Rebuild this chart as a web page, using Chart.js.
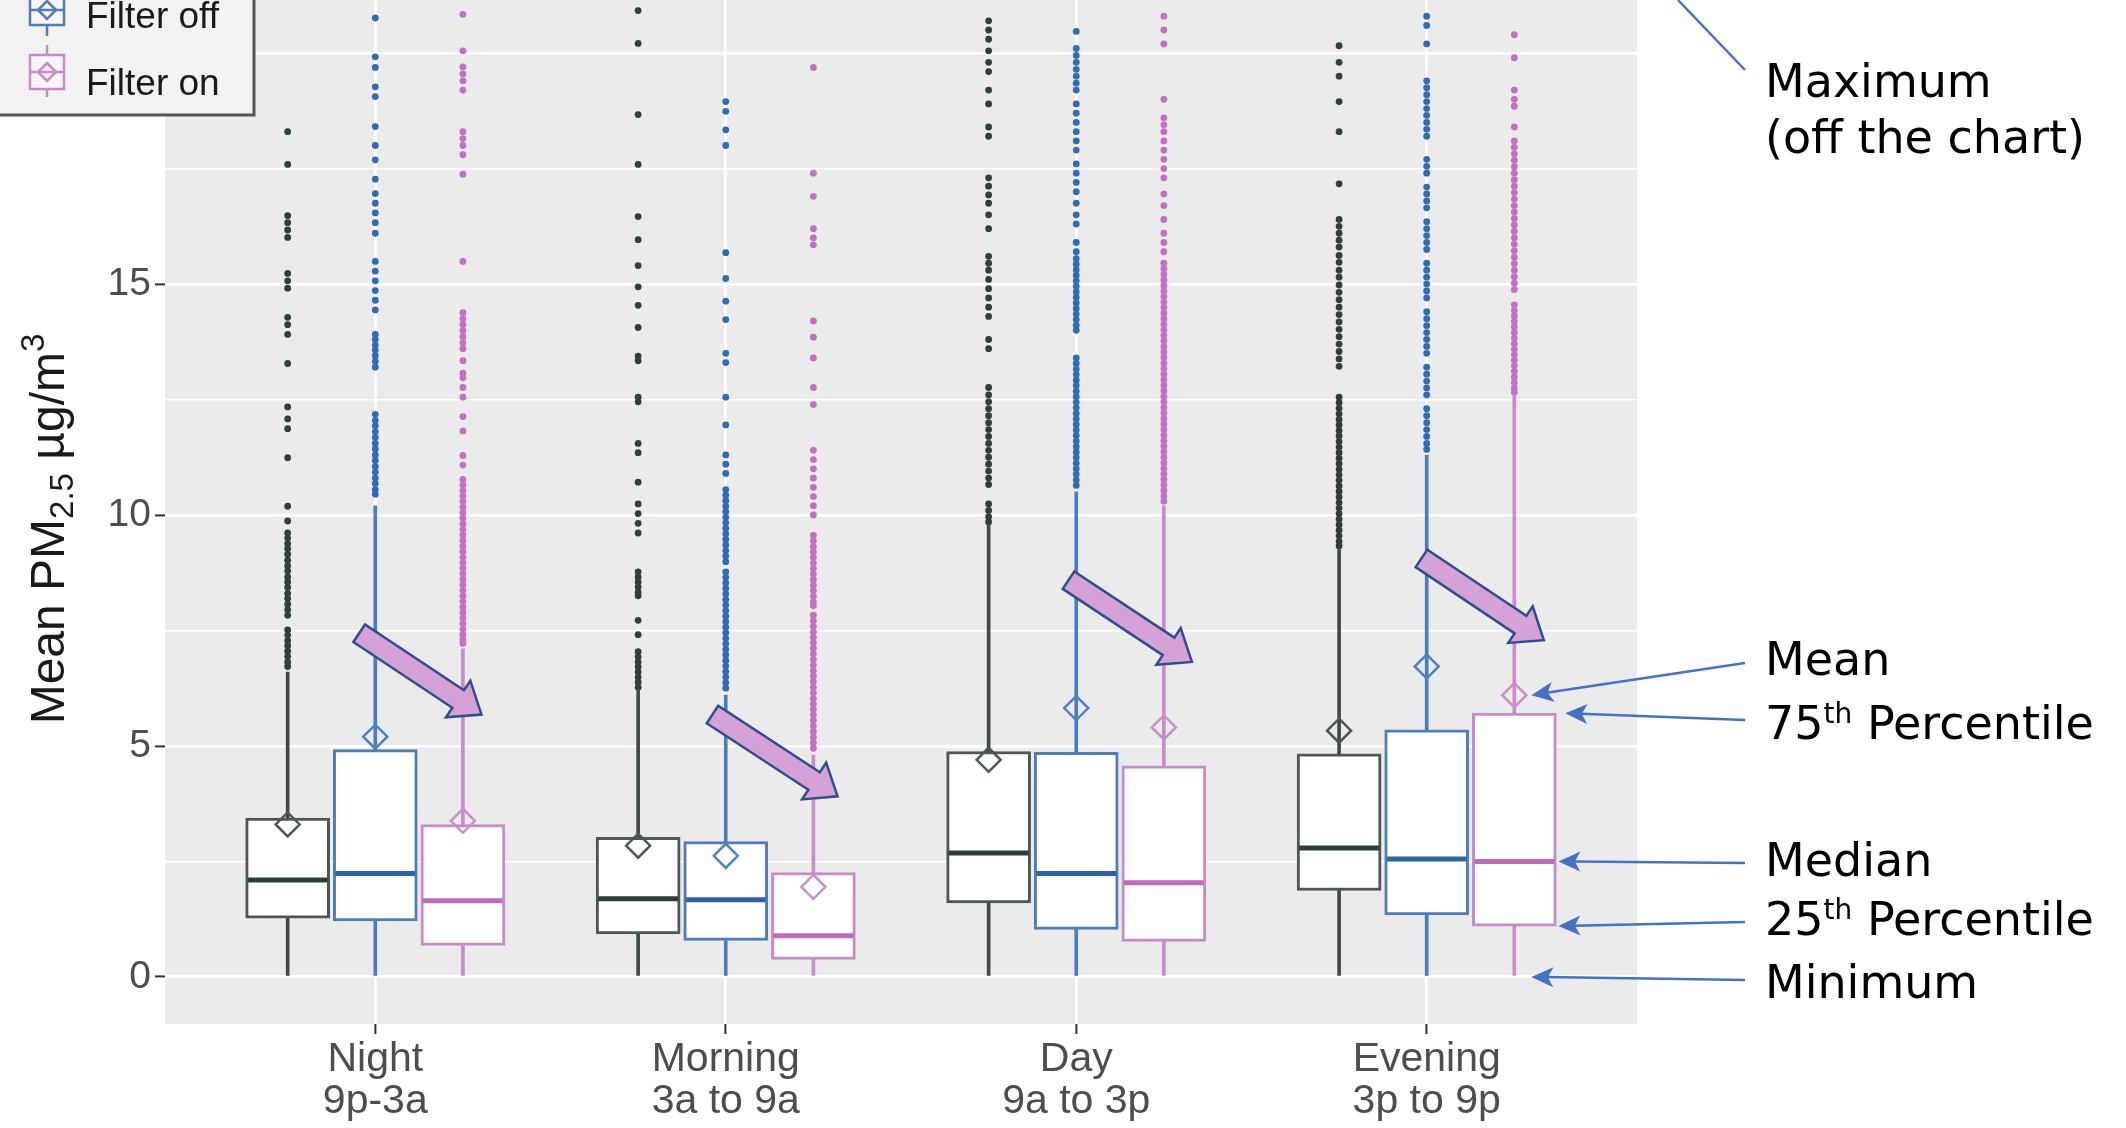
<!DOCTYPE html>
<html>
<head>
<meta charset="utf-8">
<script src="https://cdn.jsdelivr.net/npm/chart.js@4.4.1/dist/chart.umd.min.js"></script>
<style>
  html, body { margin: 0; padding: 0; background: #ffffff; }
  #marco { width: 2126px; height: 1128px; position: relative; }
</style>
</head>
<body>
<div id="marco"><canvas id="pmChart"></canvas></div>
<script>
// Categorías y etiquetas del eje x
const categorias = ['Night', 'Morning', 'Day', 'Evening'];
const periodos = ['9p-3a', '3a to 9a', '9a to 3p', '3p to 9p'];
const leyenda = ['Filter off', 'Filter on'];

// Marcas del eje y
const ticksMayores = [0, 5, 10, 15, 20];
const ticksMenores = [2.5, 7.5, 12.5, 17.5];
const yMin = -1.02;
const yMax = 21.15;

// Grupo gris oscuro (primera caja de cada franja)
const q1Gris = [1.27, 0.93, 1.60, 1.87];
const medianaGris = [2.10, 1.69, 2.68, 2.79];
const q3Gris = [3.44, 3.02, 4.88, 4.83];
const mediaGris = [3.30, 2.84, 4.70, 5.33];
const minGris = [0, 0, 0, 0];
const bigoteGris = [6.6, 6.2, 9.8, 9.25];
const atipicosGris = [
  [18.3, 17.59, 16.48, 16.33, 16.17, 16.01, 15.23, 15.07, 14.91, 14.28, 14.12, 13.91, 13.28, 12.34, 12.08, 11.87, 11.24, 10.19, 9.87, 9.61, 9.5, 9.38, 9.27, 9.15, 9.02, 8.9, 8.79, 8.66, 8.55, 8.43, 8.3, 8.19, 8.07, 7.95, 7.83, 7.51, 7.4, 7.28, 7.17, 7.05, 6.94, 6.82, 6.72],
  [20.92, 20.21, 18.67, 17.59, 16.46, 15.96, 15.4, 14.94, 14.54, 14.06, 13.44, 13.34, 12.55, 12.45, 11.55, 11.35, 10.71, 10.24, 10.03, 9.82, 9.61, 8.77, 8.66, 8.55, 8.44, 8.33, 8.25, 7.72, 7.41, 7.04, 6.93, 6.82, 6.71, 6.6, 6.49, 6.38, 6.27],
  [20.7, 20.5, 20.3, 20.05, 19.8, 19.6, 19.2, 18.9, 18.4, 18.2, 17.3, 17.12, 16.93, 16.75, 16.5, 16.2, 15.6, 15.45, 15.3, 15.1, 14.9, 14.7, 14.5, 14.3, 13.8, 13.6, 12.76, 12.6, 12.45, 12.3, 12.15, 12.0, 11.85, 11.7, 11.55, 11.4, 11.25, 11.1, 10.95, 10.8, 10.66, 10.24, 10.1, 9.96, 9.85],
  [20.16, 19.8, 19.5, 18.95, 18.3, 17.17, 16.4, 16.25, 16.1, 15.95, 15.8, 15.62, 15.47, 15.3, 15.15, 14.98, 14.82, 14.66, 14.5, 14.34, 14.18, 14.02, 13.86, 13.7, 13.54, 13.38, 13.22, 12.55, 12.43, 12.31, 12.19, 12.07, 11.95, 11.83, 11.71, 11.59, 11.47, 11.35, 11.23, 11.11, 10.99, 10.87, 10.75, 10.63, 10.51, 10.39, 10.27, 10.15, 10.03, 9.91, 9.79, 9.67, 9.55, 9.43, 9.33]
];

// Filter off (azul)
const q1Off = [1.21, 0.79, 1.03, 1.34];
const medianaOff = [2.24, 1.67, 2.24, 2.55];
const q3Off = [4.92, 2.93, 4.86, 5.35];
const mediaOff = [5.20, 2.62, 5.82, 6.72];
const minOff = [0, 0, 0, 0];
const bigoteOff = [10.2, 6.1, 10.5, 11.3];
const atipicosOff = [
  [20.76, 19.92, 19.69, 19.27, 19.06, 18.41, 18.0, 17.69, 17.27, 16.96, 16.75, 16.54, 16.33, 16.1, 15.49, 15.28, 15.07, 14.86, 14.65, 14.44, 13.91, 13.8, 13.68, 13.57, 13.45, 13.33, 13.2, 12.18, 12.05, 11.93, 11.8, 11.68, 11.55, 11.43, 11.3, 11.18, 11.05, 10.93, 10.8, 10.68, 10.55, 10.45],
  [18.95, 18.74, 18.34, 18.0, 15.68, 15.12, 14.63, 14.23, 13.5, 13.3, 12.55, 11.95, 11.3, 11.1, 10.9, 10.55, 10.43, 10.31, 10.19, 10.07, 9.95, 9.83, 9.71, 9.59, 9.47, 9.35, 9.23, 9.11, 8.99, 8.77, 8.65, 8.53, 8.41, 8.29, 8.17, 8.05, 7.93, 7.81, 7.69, 7.57, 7.45, 7.33, 7.21, 7.09, 6.97, 6.85, 6.73, 6.61, 6.49, 6.37, 6.25],
  [20.47, 20.1, 19.95, 19.8, 19.65, 19.5, 19.35, 19.2, 18.9, 18.7, 18.5, 18.3, 18.1, 17.9, 17.6, 17.4, 17.2, 17.0, 16.75, 16.5, 16.3, 15.9, 15.7, 15.55, 15.43, 15.31, 15.19, 15.07, 14.95, 14.83, 14.71, 14.59, 14.47, 14.35, 14.23, 14.11, 14.0, 13.4, 13.28, 13.16, 13.04, 12.92, 12.8, 12.68, 12.56, 12.44, 12.32, 12.2, 12.08, 11.96, 11.84, 11.72, 11.6, 11.48, 11.36, 11.24, 11.12, 11.0, 10.88, 10.76, 10.64],
  [20.8, 20.6, 20.2, 19.4, 19.25, 19.1, 18.95, 18.8, 18.65, 18.5, 18.35, 18.2, 17.7, 17.55, 17.4, 17.1, 16.95, 16.8, 16.65, 16.35, 16.2, 16.05, 15.9, 15.75, 15.45, 15.3, 15.15, 15.0, 14.85, 14.7, 14.4, 14.25, 14.1, 13.95, 13.8, 13.65, 13.5, 13.2, 13.05, 12.9, 12.75, 12.6, 12.3, 12.15, 12.0, 11.85, 11.7, 11.55, 11.42]
];

// Filter on (rosa)
const q1On = [0.68, 0.38, 0.77, 1.10];
const medianaOn = [1.65, 0.89, 2.04, 2.50];
const q3On = [3.30, 2.26, 4.57, 5.71];
const mediaOn = [3.38, 1.95, 5.40, 6.10];
const minOn = [0, 0, 0, 0];
const bigoteOn = [7.1, 4.8, 10.2, 12.6];
const atipicosOn = [
  [20.84, 20.05, 19.7, 19.55, 19.4, 19.2, 18.3, 18.15, 18.0, 17.8, 17.38, 15.49, 14.38, 14.25, 14.12, 13.99, 13.86, 13.73, 13.6, 13.34, 13.07, 12.97, 12.76, 12.55, 12.13, 11.82, 11.29, 11.08, 10.77, 10.65, 10.53, 10.41, 10.29, 10.17, 10.05, 9.93, 9.81, 9.69, 9.57, 9.45, 9.33, 9.21, 9.09, 8.97, 8.85, 8.73, 8.61, 8.49, 8.37, 8.25, 8.13, 8.01, 7.89, 7.77, 7.65, 7.53, 7.41, 7.3, 7.22],
  [19.69, 17.4, 16.9, 16.2, 16.0, 15.85, 14.2, 13.85, 13.4, 12.76, 12.39, 11.4, 11.2, 11.0, 10.8, 10.6, 10.4, 10.2, 10.0, 9.56, 9.44, 9.32, 9.2, 9.08, 8.96, 8.84, 8.72, 8.6, 8.48, 8.36, 8.24, 8.12, 8.04, 7.83, 7.71, 7.59, 7.47, 7.35, 7.23, 7.11, 6.99, 6.87, 6.75, 6.63, 6.51, 6.39, 6.27, 6.15, 6.03, 5.91, 5.79, 5.67, 5.55, 5.43, 5.31, 5.19, 5.07, 4.95],
  [20.8, 20.5, 20.2, 19.0, 18.6, 18.45, 18.3, 18.1, 17.9, 17.7, 17.5, 17.3, 16.95, 16.7, 16.4, 16.1, 15.9, 15.7, 15.45, 15.33, 15.21, 15.09, 14.97, 14.85, 14.73, 14.61, 14.49, 14.37, 14.25, 14.13, 14.01, 13.89, 13.77, 13.65, 13.53, 13.41, 13.29, 13.17, 13.05, 12.93, 12.81, 12.69, 12.57, 12.45, 12.33, 12.21, 12.09, 11.97, 11.85, 11.73, 11.61, 11.49, 11.37, 11.25, 11.13, 11.01, 10.89, 10.77, 10.65, 10.53, 10.41, 10.3],
  [20.4, 19.9, 19.2, 19.0, 18.85, 18.4, 18.1, 17.96, 17.82, 17.68, 17.54, 17.4, 17.26, 17.12, 16.98, 16.84, 16.7, 16.56, 16.42, 16.28, 16.14, 16.0, 15.86, 15.72, 15.58, 15.44, 15.3, 15.16, 15.02, 14.88, 14.55, 14.43, 14.31, 14.19, 14.07, 13.95, 13.83, 13.71, 13.59, 13.47, 13.35, 13.23, 13.11, 12.99, 12.87, 12.75, 12.66]
];

// Flechas moradas (cola y punta en unidades de los ejes)
const colasFlecha = [[0.954, 7.44], [1.962, 5.68], [2.978, 8.59], [3.985, 9.06]];
const puntasFlecha = [[1.303, 5.68], [2.319, 3.91], [3.33, 6.82], [4.334, 7.29]];

// Desplazamiento de cada grupo dentro de la franja
const desplazamientos = [-0.25, 0, 0.25];

const grupos = [
  { q1: q1Gris, med: medianaGris, q3: q3Gris, media: mediaGris, min: minGris, max: bigoteGris, atip: atipicosGris },
  { q1: q1Off, med: medianaOff, q3: q3Off, media: mediaOff, min: minOff, max: bigoteOff, atip: atipicosOff },
  { q1: q1On, med: medianaOn, q3: q3On, media: mediaOn, min: minOn, max: bigoteOn, atip: atipicosOn }
];

const colores = [
  { caja: '#4d5854', bigote: '#3d4a46', mediana: '#2c3e3a', punto: '#2f403c', media: '#4d5854' },
  { caja: '#4f7db6', bigote: '#4a7cc0', mediana: '#2d64a9', punto: '#2f6cb6', media: '#4d82c2' },
  { caja: '#c68cc7', bigote: '#c98bcb', mediana: '#c06ab9', punto: '#c46fc4', media: '#c98fc9' }
];

Chart.defaults.font.family = '"Liberation Sans", Arial, sans-serif';
Chart.defaults.color = '#4d4d4d';

// Construir los datasets de cada grupo
const datasets = [];
grupos.forEach((g, gi) => {
  const c = colores[gi];
  const xEn = i => i + 1 + desplazamientos[gi];
  datasets.push({
    type: 'scatter', order: 5,
    data: g.atip.flatMap((vals, i) => vals.map(v => ({ x: xEn(i), y: v }))),
    pointRadius: 3.4, pointBorderWidth: 0, pointBackgroundColor: c.punto
  });
  datasets.push({
    type: 'bar', order: 4, grouped: false, barThickness: 3,
    data: categorias.map((n, i) => ({ x: xEn(i), y: [g.min[i], g.max[i]] })),
    backgroundColor: c.bigote, borderWidth: 0
  });
  datasets.push({
    type: 'bar', order: 3, grouped: false, barThickness: 84,
    data: categorias.map((n, i) => ({ x: xEn(i), y: [g.q1[i], g.q3[i]] })),
    backgroundColor: '#ffffff', borderColor: c.caja, borderWidth: 3, borderSkipped: false
  });
  datasets.push({
    type: 'scatter', order: 2,
    data: categorias.map((n, i) => ({ x: xEn(i), y: g.med[i] })),
    pointStyle: 'line', pointRadius: 40, pointBorderWidth: 5, pointBorderColor: c.mediana
  });
  datasets.push({
    type: 'scatter', order: 1,
    data: categorias.map((n, i) => ({ x: xEn(i), y: g.media[i] })),
    pointStyle: 'rectRot', pointRadius: 12, pointBorderWidth: 2.5,
    pointBorderColor: c.media, pointBackgroundColor: 'rgba(0,0,0,0)'
  });
});

// Flecha gruesa morada
function flechaBloque(ctx, x1, y1, x2, y2) {
  const dx = x2 - x1, dy = y2 - y1;
  const len = Math.hypot(dx, dy);
  const ux = dx / len, uy = dy / len;
  const px = -uy, py = ux;
  const sw = 10.5, hw = 22, hl = 28;
  const bx = x2 - ux * hl, by = y2 - uy * hl;
  ctx.beginPath();
  ctx.moveTo(x1 + px * sw, y1 + py * sw);
  ctx.lineTo(bx + px * sw, by + py * sw);
  ctx.lineTo(bx + px * hw, by + py * hw);
  ctx.lineTo(x2, y2);
  ctx.lineTo(bx - px * hw, by - py * hw);
  ctx.lineTo(bx - px * sw, by - py * sw);
  ctx.lineTo(x1 - px * sw, y1 - py * sw);
  ctx.closePath();
  ctx.fillStyle = '#d4a2d6';
  ctx.fill();
  ctx.strokeStyle = '#2f4e8e';
  ctx.lineWidth = 2.5;
  ctx.lineJoin = 'miter';
  ctx.stroke();
}

// Línea azul con punta
function flechaAzul(ctx, x1, y1, x2, y2, conPunta) {
  const ang = Math.atan2(y2 - y1, x2 - x1);
  const L = 22, W = 10;
  ctx.strokeStyle = '#4472c4';
  ctx.fillStyle = '#4472c4';
  ctx.lineWidth = 2.5;
  ctx.beginPath();
  ctx.moveTo(x1, y1);
  ctx.lineTo(conPunta ? x2 - Math.cos(ang) * L * 0.7 : x2, conPunta ? y2 - Math.sin(ang) * L * 0.7 : y2);
  ctx.stroke();
  if (!conPunta) return;
  ctx.beginPath();
  ctx.moveTo(x2, y2);
  ctx.lineTo(x2 - Math.cos(ang) * L - Math.sin(ang) * W, y2 - Math.sin(ang) * L + Math.cos(ang) * W);
  ctx.lineTo(x2 - Math.cos(ang) * L * 0.75, y2 - Math.sin(ang) * L * 0.75);
  ctx.lineTo(x2 - Math.cos(ang) * L + Math.sin(ang) * W, y2 - Math.sin(ang) * L - Math.cos(ang) * W);
  ctx.closePath();
  ctx.fill();
}

// Texto con partes normales y superíndices/subíndices
function textoPartes(ctx, partes, x, y) {
  let cx = x;
  partes.forEach(p => {
    ctx.font = p.f;
    ctx.fillText(p.t, cx, y + (p.dy || 0));
    cx += ctx.measureText(p.t).width;
  });
  return cx - x;
}

function anchoPartes(ctx, partes) {
  let w = 0;
  partes.forEach(p => { ctx.font = p.f; w += ctx.measureText(p.t).width; });
  return w;
}

// Icono de caja para la leyenda
function iconoCaja(ctx, cx, top, bottom, wTop, wBot, med, c) {
  ctx.strokeStyle = c.caja;
  ctx.lineWidth = 2.5;
  ctx.beginPath(); ctx.moveTo(cx, wTop); ctx.lineTo(cx, wBot); ctx.stroke();
  ctx.fillStyle = '#fbf4fb';
  ctx.fillRect(cx - 17, top, 34, bottom - top);
  ctx.strokeRect(cx - 17, top, 34, bottom - top);
  ctx.beginPath(); ctx.moveTo(cx - 17, med); ctx.lineTo(cx + 17, med); ctx.stroke();
  ctx.beginPath();
  ctx.moveTo(cx, med - 9); ctx.lineTo(cx + 9, med); ctx.lineTo(cx, med + 9); ctx.lineTo(cx - 9, med);
  ctx.closePath(); ctx.stroke();
}

const decoracion = {
  id: 'decoracion',
  beforeDraw(chart) {
    const { ctx, chartArea: a } = chart;
    ctx.save();
    ctx.fillStyle = '#ebebeb';
    ctx.fillRect(a.left, a.top, a.right - a.left, a.bottom - a.top);
    ctx.restore();
  },
  afterDatasetsDraw(chart) {
    const { ctx, scales: { x, y } } = chart;
    ctx.save();
    colasFlecha.forEach((t, i) => {
      const p = puntasFlecha[i];
      flechaBloque(ctx, x.getPixelForValue(t[0]), y.getPixelForValue(t[1]),
        x.getPixelForValue(p[0]), y.getPixelForValue(p[1]));
    });
    ctx.restore();
  },
  afterDraw(chart) {
    const { ctx, scales: { x, y } } = chart;
    ctx.save();

    // Título del eje y
    const grande = '48px "Liberation Sans", Arial, sans-serif';
    const chica = '33px "Liberation Sans", Arial, sans-serif';
    const titulo = [
      { t: 'Mean PM', f: grande },
      { t: '2.5', f: chica, dy: 9 },
      { t: ' \u00b5g/m', f: grande },
      { t: '3', f: chica, dy: -20 }
    ];
    ctx.translate(47, 529);
    ctx.rotate(-Math.PI / 2);
    ctx.fillStyle = '#1a1a1a';
    ctx.textBaseline = 'alphabetic';
    textoPartes(ctx, titulo, -anchoPartes(ctx, titulo) / 2, 17);
    ctx.restore();

    // Notas a la derecha, apuntando a la caja rosa de Evening
    ctx.save();
    const cx = x.getPixelForValue(4 + desplazamientos[2]);
    const fNota = '46px "DejaVu Sans", Verdana, sans-serif';
    const fSup = '28px "DejaVu Sans", Verdana, sans-serif';
    const xIni = 1745, xTexto = 1765;
    flechaAzul(ctx, xIni, 70, 1678, 0, false);
    const notas = [
      { v: mediaOn[3], dx: 17, y0: 663, base: 675, partes: [{ t: 'Mean', f: fNota }] },
      { v: q3On[3], dx: 51, y0: 720, base: 739, partes: [{ t: '75', f: fNota }, { t: 'th', f: fSup, dy: -16 }, { t: ' Percentile', f: fNota }] },
      { v: medianaOn[3], dx: 44, y0: 863, base: 876, partes: [{ t: 'Median', f: fNota }] },
      { v: q1On[3], dx: 44, y0: 922, base: 935, partes: [{ t: '25', f: fNota }, { t: 'th', f: fSup, dy: -16 }, { t: ' Percentile', f: fNota }] },
      { v: minOn[3], dx: 17, y0: 980, base: 998, partes: [{ t: 'Minimum', f: fNota }] }
    ];
    notas.forEach(n => {
      flechaAzul(ctx, xIni, n.y0, cx + n.dx, y.getPixelForValue(n.v), true);
    });
    ctx.fillStyle = '#000000';
    ctx.textBaseline = 'alphabetic';
    textoPartes(ctx, [{ t: 'Maximum', f: fNota }], xTexto, 97);
    textoPartes(ctx, [{ t: '(off the chart)', f: fNota }], xTexto, 153);
    notas.forEach(n => textoPartes(ctx, n.partes, xTexto, n.base));
    ctx.restore();

    // Leyenda (recortada arriba)
    ctx.save();
    ctx.fillStyle = '#f2f2f2';
    ctx.fillRect(-4, -4, 258, 119);
    ctx.strokeStyle = '#555555';
    ctx.lineWidth = 3;
    ctx.strokeRect(-4, -4, 258, 119);
    iconoCaja(ctx, 47, -8, 25, -20, 36, 10, colores[1]);
    iconoCaja(ctx, 47, 55, 89, 45, 97, 72, colores[2]);
    ctx.fillStyle = '#1a1a1a';
    ctx.font = '37px "Liberation Sans", Arial, sans-serif';
    ctx.textBaseline = 'alphabetic';
    ctx.fillText(leyenda[0], 86, 28);
    ctx.fillText(leyenda[1], 86, 95);
    ctx.restore();
  }
};

const todosTicks = ticksMayores.concat(ticksMenores).sort((a, b) => a - b);
const esMayor = v => ticksMayores.includes(v);

new Chart(document.getElementById('pmChart'), {
  type: 'bar',
  data: { datasets: datasets },
  options: {
    responsive: true,
    maintainAspectRatio: false,
    animation: false,
    layout: { autoPadding: false, padding: { top: 0, left: 0, right: 489, bottom: 0 } },
    plugins: { legend: { display: false }, tooltip: { enabled: false } },
    scales: {
      x: {
        type: 'linear', min: 0.4, max: 4.6, offset: false,
        grid: {
          offset: false, color: '#ffffff', lineWidth: 2.8,
          tickLength: 10, tickColor: '#333333', tickWidth: 2
        },
        border: { display: false },
        afterBuildTicks: s => { s.ticks = categorias.map((n, i) => ({ value: i + 1 })); },
        afterFit: s => { s.height = 104; s.paddingLeft = 0; s.paddingRight = 0; },
        ticks: {
          autoSkip: false, maxRotation: 0, minRotation: 0, padding: 5,
          color: '#4d4d4d',
          font: { size: 41, lineHeight: 1.02 },
          callback: v => [categorias[v - 1], periodos[v - 1]]
        }
      },
      y: {
        type: 'linear', min: yMin, max: yMax,
        grid: {
          color: '#ffffff',
          lineWidth: c => esMayor(c.tick.value) ? 2.8 : 1.4,
          tickLength: 10,
          tickColor: c => esMayor(c.tick.value) ? '#333333' : 'rgba(0,0,0,0)',
          tickWidth: 2
        },
        border: { display: false },
        afterBuildTicks: s => { s.ticks = todosTicks.map(v => ({ value: v })); },
        afterFit: s => { s.width = 165; s.paddingTop = 0; s.paddingBottom = 0; },
        ticks: {
          autoSkip: false, padding: 4, color: '#4d4d4d',
          font: { size: 39 },
          callback: v => esMayor(v) ? String(v) : ''
        }
      }
    }
  },
  plugins: [decoracion]
});
</script>
</body>
</html>
